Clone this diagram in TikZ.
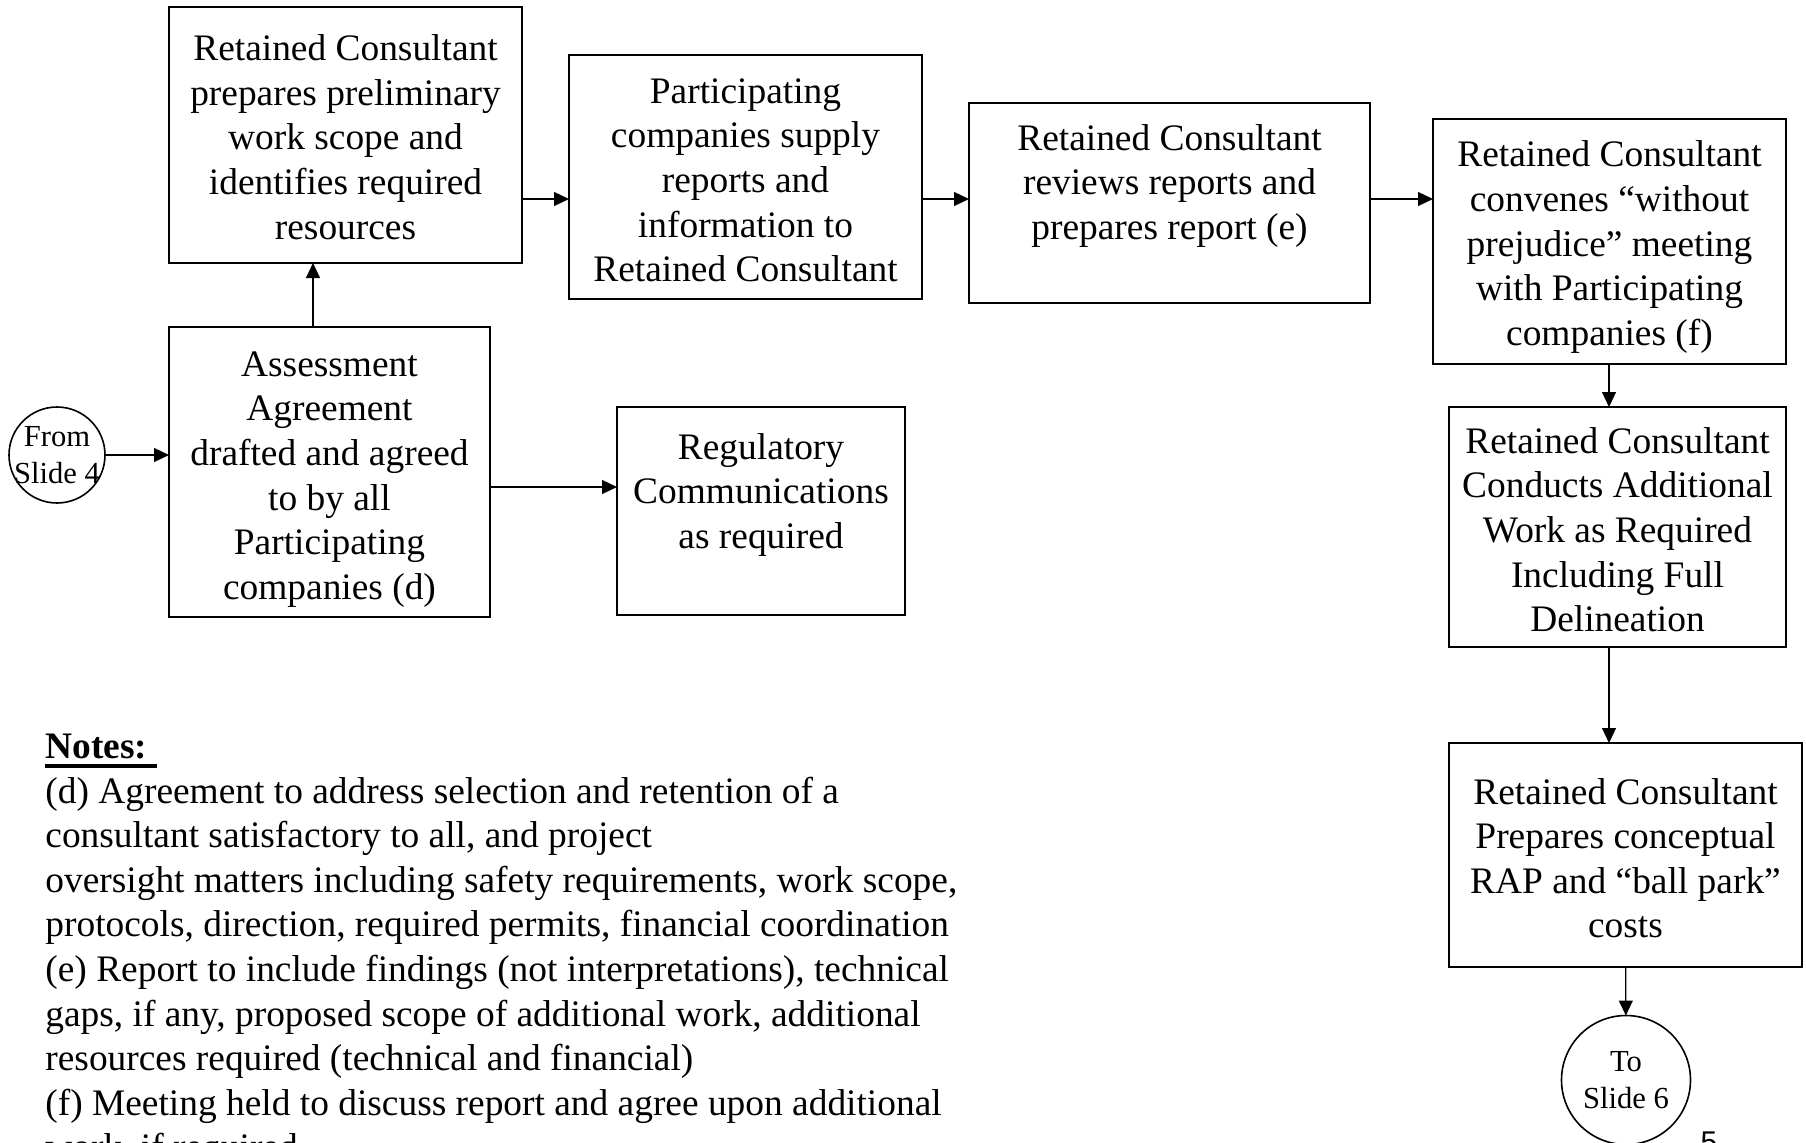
\documentclass[tikz,border=0pt]{standalone}
\usepackage{fontspec}
\setmainfont{Liberation Serif}
\newfontfamily\pagefont{Liberation Sans}
\usetikzlibrary{arrows.meta}

\newcommand\thickul[1]{\setbox0=\hbox{#1}\rlap{\rule[-4.7pt]{\wd0}{1.7pt}}\box0}
% pushes the text of a box down a little
\newcommand\boxtop[1]{\rule{0pt}{\dimexpr 12.8pt+#1\relax}}

\begin{document}
\begin{tikzpicture}[x=0.5pt, y=-0.5pt, >={Triangle[length=7.5pt,width=7pt]},
    box/.style={draw, line width=0.8pt, inner sep=0pt, outer sep=0pt, align=center,
      font=\fontsize{18.7}{22.3}\selectfont},
    slide/.style={draw, circle, line width=0.8pt, inner sep=0pt, outer sep=0pt},
    slidetext/.style={align=center, inner sep=0pt, font=\fontsize{15.3}{18.5}\selectfont},
    flow/.style={->, line width=0.6pt}]
  \useasboundingbox (0,0) rectangle (1806,1142);

  % top row
  \node[box, minimum width=176.5pt, minimum height=128pt] (prelim) at (345.5,135)
    {\boxtop{2.3pt}Retained Consultant\\prepares preliminary\\work scope and\\identifies required\\resources};
  \node[box, minimum width=176.5pt, minimum height=122pt] (supply) at (745.5,177)
    {\boxtop{2.9pt}Participating\\companies supply\\reports and\\information to\\Retained Consultant};
  \node[box, minimum width=200.5pt, minimum height=100pt] (review) at (1169.5,203)
    {\boxtop{1.2pt}Retained Consultant\\reviews reports and\\prepares report (e)\\\mbox{}};
  \node[box, minimum width=176.5pt, minimum height=122.5pt] (meet) at (1609.5,241.5)
    {\boxtop{5.8pt}Retained Consultant\\convenes “without\\prejudice” meeting\\with Participating\\companies (f)};

  % left and right columns
  \node[box, minimum width=160.5pt, minimum height=145pt] (agree) at (329.5,472)
    {\boxtop{6.9pt}Assessment\\Agreement\\drafted and agreed\\to by all\\Participating\\companies (d)};
  \node[box, minimum width=144pt, minimum height=104pt] (regul) at (761,511)
    {\boxtop{2.3pt}Regulatory\\Communications\\as required\\\mbox{}};
  \node[box, minimum width=168.5pt, minimum height=120pt] (extra) at (1617.5,527)
    {\boxtop{2.9pt}Retained Consultant\\Conducts Additional\\Work as Required\\Including Full\\Delineation};
  \node[box, minimum width=176.5pt, minimum height=112pt] (rap) at (1625.5,855)
    {\boxtop{3.4pt}Retained Consultant\\Prepares conceptual\\RAP and “ball park”\\costs};

  \node[slide, minimum size=48pt] (fromslide) at (57,455) {};
  \node[slidetext] (fromtext) at (fromslide) {From\\Slide 4};
  \node[slide, minimum size=64.5pt] (toslide) at (1626,1080) {};
  \node[slidetext] (totext) at (toslide) {To\\Slide 6};

  \draw[flow] (fromslide) -- (fromslide -| agree.west);
  \draw[flow] (agree.north -| 313,0) -- (prelim.south -| 313,0);
  \draw[flow] (prelim.east |- 0,199) -- (supply.west |- 0,199);
  \draw[flow] (supply.east |- 0,199) -- (review.west |- 0,199);
  \draw[flow] (review.east |- 0,199) -- (meet.west |- 0,199);
  \draw[flow] (agree.east |- 0,487) -- (regul.west |- 0,487);
  \draw[flow] (meet.south -| 1609,0) -- (extra.north -| 1609,0);
  \draw[flow] (extra.south -| 1609,0) -- (rap.north -| 1609,0);
  \draw[flow] (rap) -- (toslide);

  % notes
  \node[anchor=north west, inner sep=0pt, align=left, font=\fontsize{18.7}{22.3}\selectfont]
    (notes) at (45,733.5)
    {\thickul{\textbf{Notes:}\ }\\
     (d) Agreement to address selection and retention of a\\
     consultant satisfactory to all, and project\\
     oversight matters including safety requirements, work scope,\\
     protocols, direction, required permits, financial coordination\\
     (e) Report to include findings (not interpretations), technical\\
     gaps, if any, proposed scope of additional work, additional\\
     resources required (technical and financial)\\
     (f) Meeting held to discuss report and agree upon additional\\
     work, if required};

  \node[anchor=north, inner sep=0pt, font=\pagefont\fontsize{15}{18}\selectfont]
    (pagenum) at (1709,1131) {5};
\end{tikzpicture}
\end{document}
